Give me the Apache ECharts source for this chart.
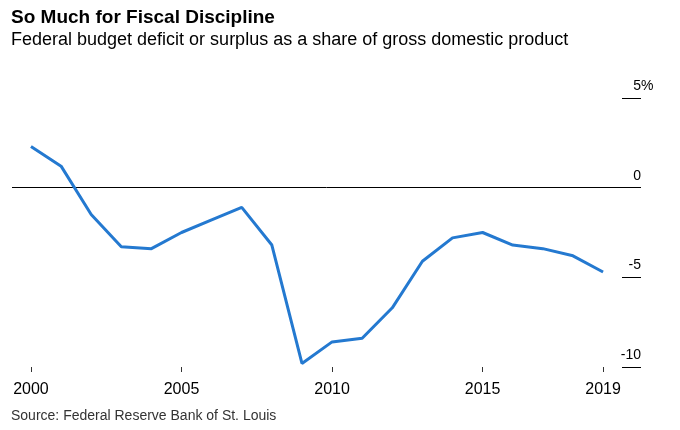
<!DOCTYPE html>
<html>
<head>
<meta charset="utf-8">
<script src="https://cdn.jsdelivr.net/npm/echarts@6/dist/echarts.min.js"></script>
<style>html,body{margin:0;padding:0;background:#fff}#c{width:680px;height:430px}</style>
</head>
<body>
<div id="c"></div>
<script>
const years = [2000,2001,2002,2003,2004,2005,2006,2007,2008,2009,2010,2011,2012,2013,2014,2015,2016,2017,2018,2019];
const deficitPct = [2.3,1.2,-1.5,-3.3,-3.4,-2.5,-1.8,-1.1,-3.2,-9.8,-8.6,-8.4,-6.7,-4.1,-2.8,-2.5,-3.2,-3.4,-3.8,-4.7];
const xTickYears = [2000,2005,2010,2015,2019];
const yTicks = [-10,-5,0,5];
const titleText = 'So Much for Fiscal Discipline';
const subtitleText = 'Federal budget deficit or surplus as a share of gross domestic product';
const sourceText = 'Source: Federal Reserve Bank of St. Louis';

const FONT = '"Liberation Sans", Arial, Helvetica, sans-serif';
const chart = echarts.init(document.getElementById('c'), null, {renderer:'canvas'});
chart.setOption({
  animation: false,
  backgroundColor: '#fff',
  title: [
    {text: titleText, left: 11, top: 8, padding: 0,
     textStyle: {fontFamily: FONT, fontSize: 19, fontWeight: 'bold', color: '#000'}},
    {text: subtitleText, left: 11, top: 31, padding: 0,
     textStyle: {fontFamily: FONT, fontSize: 18, fontWeight: 'normal', color: '#000'}},
    {text: sourceText, left: 11, top: 409, padding: 0,
     textStyle: {fontFamily: FONT, fontSize: 14, fontWeight: 'normal', color: '#333'}}
  ],
  grid: {left: 12, right: 39, top: 98, bottom: 63, containLabel: false},
  xAxis: {
    type: 'value',
    min: 1999.37, max: 2020.26,
    axisLine: {show: false, onZero: false},
    splitLine: {show: false},
    axisTick: {show: true, customValues: xTickYears, length: 5, lineStyle: {color: '#333', width: 1}},
    axisLabel: {customValues: xTickYears, margin: 15, fontFamily: FONT, fontSize: 16, color: '#000',
      formatter: v => String(v)}
  },
  yAxis: {
    type: 'value',
    position: 'right',
    min: -10, max: 5, interval: 5,
    axisLine: {show: false},
    splitLine: {show: false},
    axisTick: {show: true, inside: true, length: 19, lineStyle: {color: '#000', width: 1}},
    axisLabel: {
      inside: true, margin: 24, align: 'left', verticalAlign: 'bottom',
      padding: [0, 0, 5, 0],
      formatter: v => v === 5 ? '{n|5}{p|%}' : '{n|' + v + '}',
      rich: {
        n: {fontFamily: FONT, fontSize: 14, color: '#000', width: 24, align: 'right'},
        p: {fontFamily: FONT, fontSize: 14, color: '#000', align: 'right'}
      }
    }
  },
  series: [{
    type: 'line',
    data: years.map((y, i) => [y, deficitPct[i]]),
    symbol: 'none',
    lineStyle: {color: '#2479d0', width: 3},
    z: 3,
    markLine: {
      silent: true, symbol: 'none', label: {show: false},
      lineStyle: {color: '#000', width: 1, type: 'solid'},
      data: [{yAxis: 0}],
      z: 2
    }
  }]
});
</script>
</body>
</html>
